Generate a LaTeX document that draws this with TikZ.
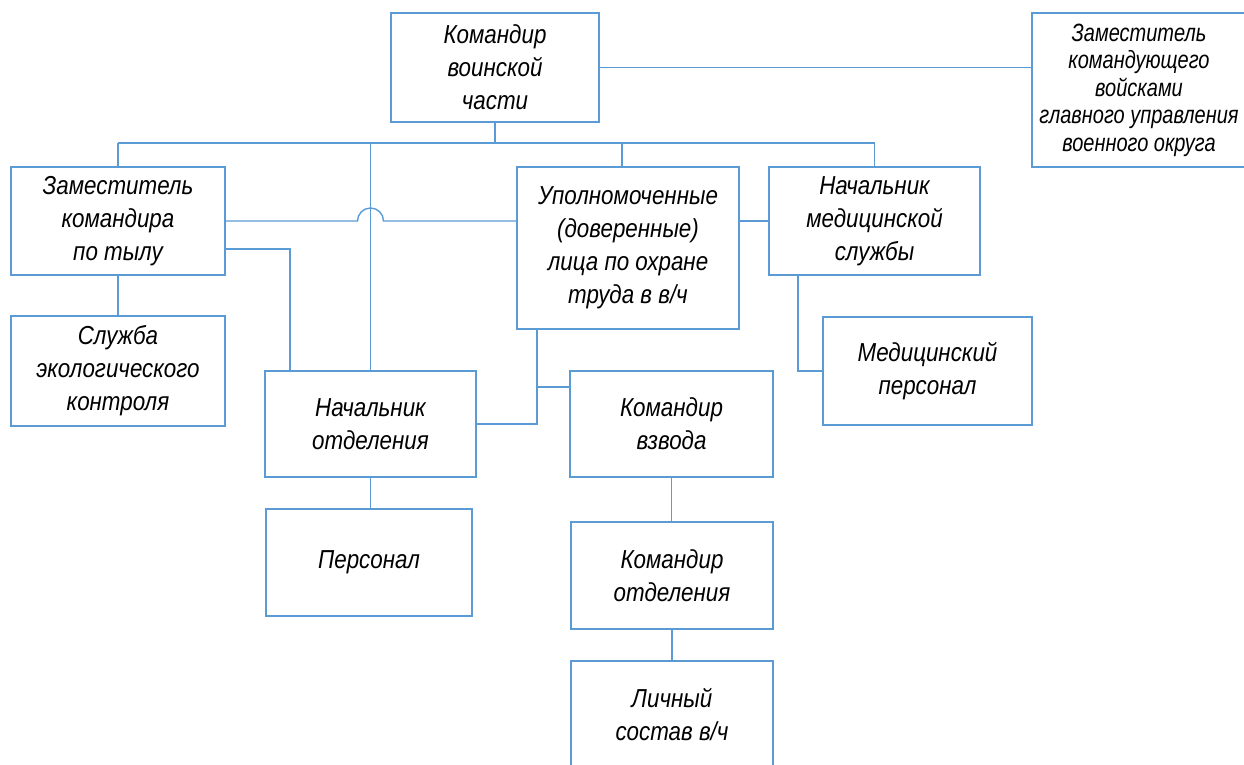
\documentclass[tikz,border=0pt]{standalone}
\usepackage{fontspec}
\setmainfont{Liberation Sans}[FakeStretch=0.86]
\newfontfamily\narrowfont{Liberation Sans}[FakeStretch=0.8]
\definecolor{orgblue}{HTML}{5B9BD5}

\begin{document}
\begin{tikzpicture}[x=1pt, y=1pt,
    unit/.style={draw=orgblue, line width=1.4pt, minimum width=210pt,
      minimum height=108pt, align=center, inner sep=0pt,
      font=\fontsize{26}{33}\selectfont\itshape},
    link/.style={draw=orgblue, line width=1.4pt}]
        \useasboundingbox (0,0) rectangle (1244,-764);
        % Draw top level
        \node[unit, minimum width=208pt, minimum height=109pt] (cmd) at (495,-67.5)
        {Командир\\воинской\\части};
        \node[unit, minimum width=214pt, minimum height=154pt,
        font=\narrowfont\fontsize{25}{27.5}\selectfont\itshape] (deputy) at (1139,-90)
        {Заместитель\\командующего\\войсками\\главного управления\\военного округа};
        % Draw second level
        \node[unit, minimum width=214pt] (rear) at (118,-221) {Заместитель\\командира\\по тылу};
        \node[unit, minimum width=222pt, minimum height=162pt] (safety) at (628,-248)
        {Уполномоченные\\(доверенные)\\лица по охране\\труда в в/ч};
        \node[unit, minimum width=211pt] (medchief) at (874.5,-221) {Начальник\\медицинской\\службы};
        % Draw third level
        \node[unit, minimum width=214pt, minimum height=110pt] (eco) at (118,-371)
        {Служба\\экологического\\контроля};
        \node[unit, minimum width=211pt, minimum height=106pt] (secthead) at (370.5,-424)
        {Начальник\\отделения};
        \node[unit, minimum width=203pt, minimum height=106pt] (platoon) at (671.5,-424)
        {Командир\\взвода};
        \node[unit, minimum width=209pt] (medstaff) at (927.5,-371) {Медицинский\\персонал};
        % Draw lower levels
        \node[unit, minimum width=206pt, minimum height=107pt] (staff) at (369,-562.5) {Персонал};
        \node[unit, minimum width=202pt, minimum height=107pt] (squad) at (672,-575.5)
        {Командир\\отделения};
        \node[unit, minimum width=202pt] (personnel) at (672,-715) {Личный\\состав в/ч};
        % Draw bus and links
        \coordinate (bus) at (0,-143);
        \coordinate (sfoot) at ([xshift=-91pt]safety.south);
        \coordinate (pjoin) at ([yshift=37pt]platoon.west);
        \draw[link] (cmd.east) -- (cmd.east -| deputy.west);
        \draw[link] (cmd.south) -- (cmd.south |- bus);
        \draw[link] (rear.north |- bus) -- (medchief.north |- bus);
        \foreach \b in {rear, medchief}
        \draw[link] (\b.north |- bus) -- (\b.north);
        \draw[link] ([xshift=-6pt]safety.north |- bus) -- ([xshift=-6pt]safety.north);
        \draw[link] (secthead.north |- bus) -- (secthead.north);
        \draw[link] (rear.east) -- ([xshift=-13pt]rear.east -| secthead.north)
        arc[start angle=180, end angle=0, radius=13pt] -- (safety.west |- rear.east);
        \draw[link] (safety.east |- medchief.west) -- (medchief.west);
        \draw[link] ([yshift=-28pt]rear.east) -| ([xshift=-80.5pt]secthead.north);
        \draw[link] (sfoot) |- (secthead.east);
        \draw[link] (pjoin) -- (pjoin -| sfoot);
        \draw[link] ([xshift=-76.5pt]medchief.south) |- (medstaff.west);
        \foreach \a/\b in {rear/eco, secthead/staff, platoon/squad, squad/personnel}
        \draw[link] (\a.south) -- (\a.south |- \b.north);
    \end{tikzpicture}
\end{document}
